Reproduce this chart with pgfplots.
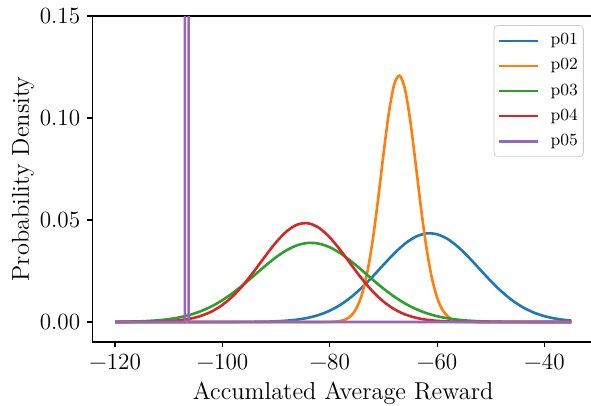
\documentclass[border=0pt]{standalone}
\usepackage{fontspec}
\usepackage{pgfplots}
\pgfplotsset{compat=1.18}

\definecolor{tabblue}{HTML}{1F77B4}
\definecolor{taborange}{HTML}{FF7F0E}
\definecolor{tabgreen}{HTML}{2CA02C}
\definecolor{tabred}{HTML}{D62728}
\definecolor{tabpurple}{HTML}{9467BD}

\begin{document}
\begin{tikzpicture}
\begin{axis}[
    at={(0,0)}, anchor=south west,
    scale only axis,
    width=250.7pt, height=162.85pt,
    xmin=-124.25, xmax=-30.75,
    ymin=-0.0098, ymax=0.15,
    xtick={-120,-100,-80,-60,-40},
    xticklabels={−120,−100,−80,−60,−40},
    ytick={0,0.05,0.10,0.15},
    yticklabels={0.00,0.05,0.10,0.15},
    tick label style={font=\fontsize{11.6}{13}\selectfont},
    label style={font=\fontsize{12.2}{14}\selectfont},
    xlabel={Accumlated Average Reward},
    ylabel={Probability Density},
    xlabel style={at={(axis description cs:0.5,-0.1768)}, anchor=base},
    ylabel style={at={(axis description cs:-0.1021,0.5)}, anchor=south},
    tick pos=left,
    tick align=outside,
    major tick length=2.5pt,
    axis line style={line width=0.6pt},
    every tick/.style={black, line width=0.6pt},
    legend cell align=left,
    legend image code/.code={\draw[#1, line width=1.3pt] (0pt,0pt) -- (19.2pt,0pt);},
    legend style={
        at={(1,1)}, anchor=north east, xshift=-5.15pt, yshift=-4.5pt,
        draw=black!20, rounded corners=2pt, fill=white,
        font=\fontsize{8.5}{10}\selectfont,
        inner xsep=2pt, inner ysep=3.2pt, row sep=3.55pt,
        nodes={inner ysep=0.5pt, inner xsep=0.8pt, text height=6pt, text depth=2pt},
        /tikz/every odd column/.append style={column sep=5pt},
    },
    every axis plot/.append style={line width=1.3pt},
]
\addplot[tabblue, smooth] coordinates {
(-120,0) (-110,0) (-100,0.000006) (-96,0.000035) (-92,0.000166) (-90,0.000336)
(-88,0.000648) (-86,0.00119) (-84,0.00209) (-82,0.00349) (-80,0.00556) (-78,0.00845)
(-76,0.01224) (-74,0.01692) (-72,0.0223) (-70,0.02802) (-68,0.03357) (-66,0.03836)
(-64,0.04179) (-62,0.04341) (-60,0.0430) (-58,0.04061) (-56,0.03657)
(-54,0.03141) (-52,0.02572) (-50,0.02009) (-48,0.01496) (-46,0.01062) (-44,0.00719)
(-42,0.00464) (-40,0.00286) (-38,0.00168) (-36,0.00094) (-35,0.00069)
};
\addlegendentry{p01}
\addplot[taborange, smooth] coordinates {
(-120,0) (-90,0) (-84,0.000001) (-81,0.00001) (-80,0.000058) (-79,0.000181)
(-78,0.000516) (-77,0.00134) (-76,0.00318) (-75,0.00688) (-74,0.01358) (-73,0.02444)
(-72,0.04012) (-71,0.06008) (-70,0.08211) (-69,0.10235) (-68,0.11639)
(-67,0.12074) (-66,0.11428) (-65,0.09866) (-64,0.07771) (-63,0.05583)
(-62,0.0366) (-61,0.02189) (-60,0.01194) (-59,0.00594) (-58,0.0027) (-57,0.00112)
(-56,0.00042) (-55,0.000146) (-54,0.000046) (-52,0.000002) (-45,0) (-35,0)
};
\addlegendentry{p02}
\addplot[tabgreen, smooth] coordinates {
(-120,0.000071) (-118,0.000139) (-116,0.000262) (-114,0.000476) (-112,0.000831)
(-110,0.0014) (-108,0.00227) (-106,0.00354) (-104,0.00531) (-102,0.00769) (-100,0.0107)
(-98,0.01435) (-96,0.01852) (-94,0.02303) (-92,0.02756) (-90,0.03177) (-88,0.03525)
(-86,0.03767) (-84,0.03875) (-82,0.03839) (-80,0.03662) (-78,0.03363) (-76,0.02973)
(-74,0.02532) (-72,0.02075) (-70,0.01638) (-68,0.01245) (-66,0.00911) (-64,0.00642)
(-62,0.00435) (-60,0.00284) (-58,0.00179) (-56,0.00108) (-54,0.00063) (-52,0.00035)
(-50,0.00019) (-48,0.0001) (-46,0.00005) (-42,0.00001) (-38,0) (-35,0)
};
\addlegendentry{p03}
\addplot[tabred, smooth] coordinates {
(-120,0.000005) (-116,0.000033) (-112,0.000188) (-110,0.00041) (-108,0.000843)
(-106,0.00164) (-104,0.00299) (-102,0.00516) (-100,0.00839) (-98,0.01284) (-96,0.01854)
(-94,0.02522) (-92,0.03234) (-90,0.03909) (-88,0.04452) (-86,0.0478)
(-84,0.04837) (-82,0.04613) (-80,0.04147) (-78,0.03514) (-76,0.02806) (-74,0.02112)
(-72,0.01498) (-70,0.01002) (-68,0.00631) (-66,0.00375) (-64,0.0021) (-62,0.00111)
(-60,0.00055) (-58,0.00026) (-56,0.00011) (-52,0.00001) (-46,0) (-35,0)
};
\addlegendentry{p04}
\addplot[tabpurple, sharp plot] coordinates {
(-120,0) (-107.0,0) (-106.96,3) (-106.35,3) (-106.31,0) (-35,0)
};
\addlegendentry{p05}
\end{axis}
\pgfresetboundingbox
\path (-46.1pt,-31.65pt) rectangle (249.15pt,170.85pt);
\end{tikzpicture}
\end{document}
